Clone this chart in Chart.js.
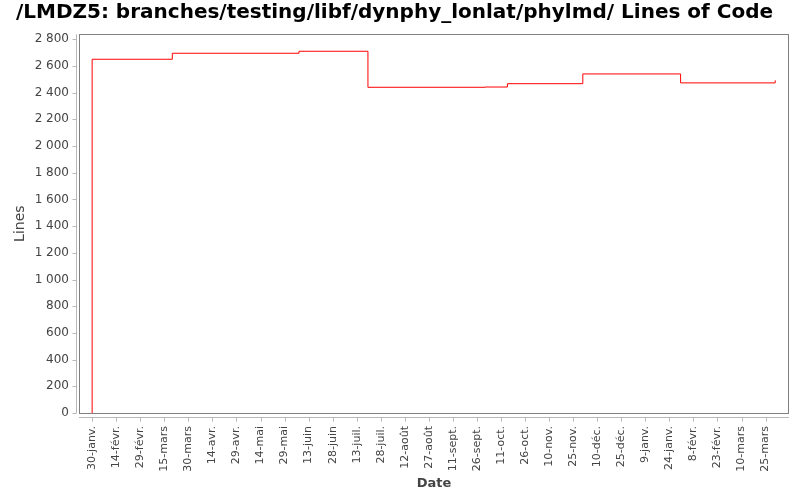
<!DOCTYPE html>
<html>
<head>
<meta charset="utf-8">
<script src="https://cdn.jsdelivr.net/npm/chart.js@4.4.1/dist/chart.umd.min.js"></script>
<style>
  body { margin: 0; background: #fff; }
  #wrap { width: 800px; height: 500px; }
</style>
</head>
<body>
<div id="wrap"><canvas id="loc" width="800" height="500"></canvas></div>
<script>
// commit dates and line counts
const dates = ['2012-01-30', '2012-01-30', '2012-03-20', '2012-06-07', '2012-07-20',
  '2012-10-01', '2012-10-15', '2012-12-01', '2013-01-31', '2013-03-31']
const lines = [0, 2650, 2695, 2710, 2440, 2442, 2467, 2540, 2473, 2492]

// x ticks every 15 days from 30 Jan 2012
const tickLabels = ['30-janv.', '14-févr.', '29-févr.', '15-mars', '30-mars', '14-avr.', '29-avr.',
  '14-mai', '29-mai', '13-juin', '28-juin', '13-juil.', '28-juil.', '12-août', '27-août',
  '11-sept.', '26-sept.', '11-oct.', '26-oct.', '10-nov.', '25-nov.', '10-déc.', '25-déc.',
  '9-janv.', '24-janv.', '8-févr.', '23-févr.', '10-mars', '25-mars']
const yTicks = [0, 200, 400, 600, 800, 1000, 1200, 1400, 1600, 1800, 2000, 2200, 2400, 2600, 2800]

const DAY = 86400000
const origin = Date.UTC(2012, 0, 30)
const dayOf = s => {
  const p = s.split('-').map(Number)
  return (Date.UTC(p[0], p[1] - 1, p[2]) - origin) / DAY
}
const points = dates.map((d, i) => ({ x: dayOf(d), y: lines[i] }))
const fmt = v => String(v).replace(/\B(?=(\d{3})+(?!\d))/g, ' ')

const FONT = 'DejaVu Sans'

// plot frame and the detached axis lines, as in the original
const framePlugin = {
  id: 'frame',
  afterDraw(chart) {
    const { ctx, chartArea: a, scales } = chart
    ctx.save()
    ctx.lineWidth = 1
    ctx.strokeStyle = '#808080'
    ctx.strokeRect(Math.round(a.left) + 0.5, Math.round(a.top) + 0.5,
      Math.round(a.right - a.left) - 1, Math.round(a.bottom - a.top))
    ctx.strokeStyle = '#b8b8b8'
    ctx.beginPath()
    const ax = Math.round(a.left) - 2.5
    ctx.moveTo(ax, a.top)
    ctx.lineTo(ax, a.bottom)
    scales.y.ticks.forEach(t => {
      const y = Math.round(scales.y.getPixelForValue(t.value)) + 0.5
      ctx.moveTo(ax - 4, y)
      ctx.lineTo(ax, y)
    })
    const ay = Math.round(a.bottom) + 4.5
    ctx.moveTo(a.left, ay)
    ctx.lineTo(a.right, ay)
    scales.x.ticks.forEach(t => {
      const x = Math.round(scales.x.getPixelForValue(t.value)) + 0.5
      ctx.moveTo(x, ay)
      ctx.lineTo(x, ay + 4)
    })
    ctx.stroke()
    ctx.restore()
  }
}

new Chart(document.getElementById('loc'), {
  type: 'line',
  data: {
    datasets: [{
      data: points,
      borderColor: '#ff0000',
      borderWidth: 1,
      stepped: true,
      pointRadius: 0,
      fill: false
    }]
  },
  options: {
    responsive: false,
    animation: false,
    layout: { padding: { top: 0, right: 11, bottom: 0, left: 0 } },
    plugins: {
      legend: { display: false },
      tooltip: { enabled: false },
      title: {
        display: true,
        text: '/LMDZ5: branches/testing/libf/dynphy_lonlat/phylmd/ Lines of Code',
        color: '#000',
        font: { family: FONT, size: 20, weight: 'bold', lineHeight: 1.2 },
        padding: { top: 1, bottom: 9.3 }
      }
    },
    scales: {
      x: {
        type: 'linear',
        min: -8.2,
        max: 434.6,
        afterBuildTicks: s => { s.ticks = tickLabels.map((l, i) => ({ value: i * 15 })) },
        afterFit: s => { s.height = 87 },
        grid: { display: false, drawTicks: false },
        border: { display: false },
        ticks: {
          autoSkip: false,
          maxRotation: 90,
          minRotation: 90,
          padding: 13,
          color: '#444',
          font: { family: FONT, size: 11 },
          callback: (v, i) => tickLabels[i]
        },
        title: {
          display: true,
          text: 'Date',
          color: '#444',
          font: { family: FONT, size: 13, weight: 'bold', lineHeight: 1.2 },
          padding: { top: 0, bottom: 8.2 }
        }
      },
      y: {
        min: 0,
        max: 2837,
        afterBuildTicks: s => { s.ticks = yTicks.map(v => ({ value: v })) },
        afterFit: s => { s.width = 79 },
        grid: { display: false, drawTicks: false },
        border: { display: false },
        ticks: {
          padding: 10,
          color: '#444',
          font: { family: FONT, size: 12 },
          callback: v => fmt(v)
        },
        title: {
          display: true,
          text: 'Lines',
          color: '#444',
          font: { family: FONT, size: 14, lineHeight: 1.2 },
          padding: { top: 12, bottom: 0 }
        }
      }
    }
  },
  plugins: [framePlugin]
})
</script>
</body>
</html>
